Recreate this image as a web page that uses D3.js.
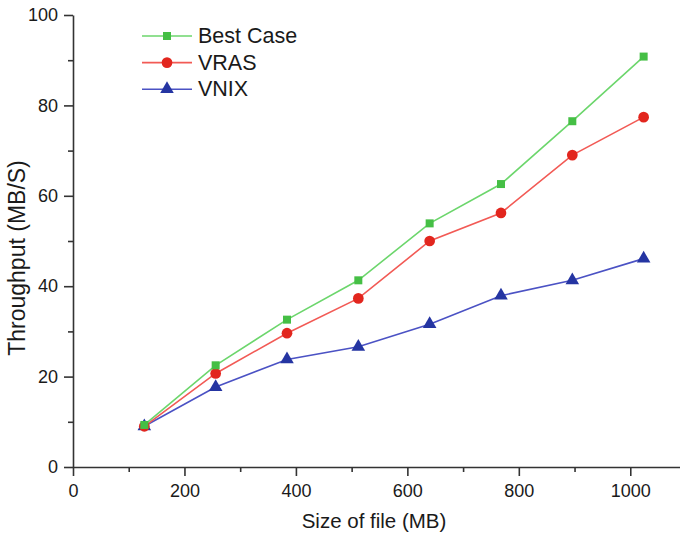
<!DOCTYPE html>
<html>
<head>
<meta charset="utf-8">
<script src="https://cdn.jsdelivr.net/npm/d3@7"></script>
<style>
  body { margin: 0; background: #fff; }
  text { font-family: "Liberation Sans", Arial, sans-serif; fill: #1a1a1a; }
</style>
</head>
<body>
<svg width="680" height="535"></svg>
<script>
// file sizes (MB)
var sizes = [128, 256, 384, 512, 640, 768, 896, 1024];
var bestCase = [9.3, 22.5, 32.6, 41.3, 53.9, 62.6, 76.5, 90.8];
var vras = [9.0, 20.7, 29.6, 37.3, 50.0, 56.2, 69.0, 77.4];
var vnix = [9.0, 17.7, 23.8, 26.6, 31.6, 37.9, 41.3, 46.1];
var xTicks = [0, 200, 400, 600, 800, 1000];
var yTicks = [0, 20, 40, 60, 80, 100];

var series = [
    {name: "Best Case", values: bestCase, line: "#6cd66c", mark: "#45bf45", shape: d3.symbolSquare, size: 64},
    {name: "VRAS", values: vras, line: "#f25a55", mark: "#e2261e", shape: d3.symbolCircle, size: 90},
    {name: "VNIX", values: vnix, line: "#4b52c4", mark: "#2535a2", shape: d3.symbolTriangle, size: 80}
];

var margin = {top: 15, left: 73, bottom: 467};
var svg = d3.select("svg");

var x = d3.scaleLinear().domain([0, 1100]).range([73, 686]);
var y = d3.scaleLinear().domain([0, 100]).range([467, 15]);

// minor ticks
svg.append("g")
    .attr("transform", "translate(0," + margin.bottom + ")")
    .call(d3.axisBottom(x).tickValues([100, 300, 500, 700, 900]).tickSize(5).tickFormat(""))
    .call(function(g) { g.select(".domain").remove(); });
svg.append("g")
    .attr("transform", "translate(" + margin.left + ",0)")
    .call(d3.axisLeft(y).tickValues([10, 30, 50, 70, 90]).tickSize(5).tickFormat(""))
    .call(function(g) { g.select(".domain").remove(); });

var xAxis = svg.append("g")
    .attr("transform", "translate(0," + margin.bottom + ")")
    .call(d3.axisBottom(x).tickValues(xTicks).tickFormat(d3.format("d"))
        .tickSize(9).tickSizeOuter(0).tickPadding(8));
var yAxis = svg.append("g")
    .attr("transform", "translate(" + margin.left + ",0)")
    .call(d3.axisLeft(y).tickValues(yTicks).tickFormat(d3.format("d"))
        .tickSize(9).tickSizeOuter(0).tickPadding(6));

svg.selectAll(".domain, .tick line").attr("stroke", "#333").attr("stroke-width", 1.6);
svg.selectAll(".tick text").style("font-size", "18px").attr("fill", "#1a1a1a")
    .style("font-family", "'Liberation Sans', Arial, sans-serif");

svg.append("text")
    .attr("x", 374).attr("y", 528)
    .attr("text-anchor", "middle")
    .style("font-size", "20.5px")
    .text("Size of file (MB)");
svg.append("text")
    .attr("transform", "translate(25,258) rotate(-90)")
    .attr("text-anchor", "middle")
    .style("font-size", "23px")
    .text("Throughput (MB/S)");

var line = d3.line()
    .x(function(d, i) { return x(sizes[i]); })
    .y(function(d) { return y(d); });

// draw in reverse so green ends on top like the original
series.slice().reverse().forEach(function(s) {
    svg.append("path")
        .attr("d", line(s.values))
        .attr("fill", "none")
        .attr("stroke", s.line)
        .attr("stroke-width", 1.6);
});
series.slice().reverse().forEach(function(s) {
    svg.selectAll(null)
        .data(s.values)
        .enter().append("path")
        .attr("transform", function(d, i) { return "translate(" + x(sizes[i]) + "," + y(d) + ")"; })
        .attr("d", d3.symbol().type(s.shape).size(s.size))
        .attr("fill", s.mark);
});

// legend
var legend = svg.append("g");
series.forEach(function(s, i) {
    var ly = 36 + i * 26.6;
    legend.append("line")
        .attr("x1", 142).attr("x2", 192)
        .attr("y1", ly).attr("y2", ly)
        .attr("stroke", s.line).attr("stroke-width", 1.6);
    legend.append("path")
        .attr("transform", "translate(167," + ly + ")")
        .attr("d", d3.symbol().type(s.shape).size(s.size))
        .attr("fill", s.mark);
    legend.append("text")
        .attr("x", 198).attr("y", ly + 7)
        .style("font-size", "21.5px")
        .text(s.name);
});
</script>
</body>
</html>
